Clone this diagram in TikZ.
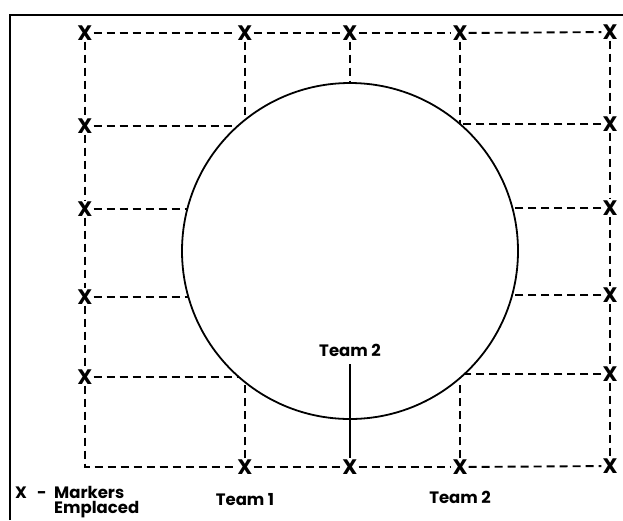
\documentclass[tikz,border=0pt]{standalone}
\usepackage{fontspec}
\setmainfont{Poppins}
\begin{document}
\begin{tikzpicture}[x=1pt,y=-1pt,
 mk/.style={font=\bfseries\fontsize{21}{21}\selectfont, inner sep=1pt},
 grid/.style={dash pattern=on 8pt off 5pt, line width=1.9pt},
 lbl/.style={font=\bfseries\fontsize{16.5}{16.5}\selectfont, inner sep=0pt, text height=12pt, text depth=0pt}]
\useasboundingbox (0,0) rectangle (623,520);
\draw[line width=2.6pt] (10,520) -- (10,15) -- (623,15);
% circle
\node[draw, circle, minimum size=336pt, inner sep=0pt, line width=1.8pt] (circ) at (350,251) {};
% markers
\node[mk] (t1) at (85,33) {X};
\node[mk] (t2) at (245,33) {X};
\node[mk] (t3) at (350,33) {X};
\node[mk] (t4) at (460,33) {X};
\node[mk] (t5) at (610,32) {X};
\node[mk] (l2) at (85,126) {X};
\node[mk] (l3) at (85,209) {X};
\node[mk] (l4) at (85,297) {X};
\node[mk] (l5) at (85,377) {X};
\node[mk] (r2) at (610,124) {X};
\node[mk] (r3) at (610,208) {X};
\node[mk] (r4) at (610,295) {X};
\node[mk] (r5) at (610,374) {X};
\node[mk] (b2) at (245,467) {X};
\node[mk] (b3) at (350,467) {X};
\node[mk] (b4) at (460,467) {X};
\node[mk] (b5) at (610,466) {X};
\coordinate (bl) at (85,467);
% circle contact points
\coordinate (ct2) at (245,118);
\coordinate (cl2) at (238,126);
\coordinate (ct3) at (350,83);
\coordinate (ct4) at (460,124);
\coordinate (cl3) at (187,209);
\coordinate (cr3) at (513,208);
\coordinate (cl4) at (188,297);
\coordinate (cr4) at (512,295);
\coordinate (cl5) at (239,377);
\coordinate (cb2) at (245,383);
\coordinate (cr5) at (464,374);
\coordinate (cb4) at (460,383);
% dashed grid
\draw[grid] (t1) -- (t2);
\draw[grid] (t2) -- (t3);
\draw[grid] (t3) -- (t4);
\draw[grid] (t4) -- (t5);
\draw[grid] (t1) -- (l2);
\draw[grid] (l2) -- (l3);
\draw[grid] (l3) -- (l4);
\draw[grid] (l4) -- (l5);
\draw[grid] (l5) -- (bl) -- (b2);
\draw[grid] (b2) -- (b3);
\draw[grid] (b3) -- (b4);
\draw[grid] (b4) -- (b5);
\draw[grid] (t5) -- (r2);
\draw[grid] (r2) -- (r3);
\draw[grid] (r3) -- (r4);
\draw[grid] (r4) -- (r5);
\draw[grid] (r5) -- (b5);
\draw[grid] (t2) -- (ct2);
\draw[grid] (l2) -- (cl2);
\draw[grid] (t3) -- (ct3);
\draw[grid] (t4) -- (ct4);
\draw[grid] (r2) -- (ct4);
\draw[grid] (l3) -- (cl3);
\draw[grid] (r3) -- (cr3);
\draw[grid] (l4) -- (cl4);
\draw[grid] (r4) -- (cr4);
\draw[grid] (l5) -- (cl5);
\draw[grid] (b2) -- (cb2);
\draw[grid] (r5) -- (cr5);
\draw[grid] (b4) -- (cb4);
% labels
\node[lbl] (team2c) at (350,350) {Team 2};
\draw[line width=1.5pt] (350,364) -- (b3);
\node[lbl] (team1) at (245,499) {Team 1};
\node[lbl] (team2) at (460,497) {Team 2};
\node[lbl] (legx) at (21,492) {X};
\node[lbl] (legd) at (42,492) {-};
\node[lbl, anchor=west] (legm) at (54,492) {Markers};
\node[lbl, anchor=west] (lege) at (54,507) {Emplaced};
\end{tikzpicture}
\end{document}
